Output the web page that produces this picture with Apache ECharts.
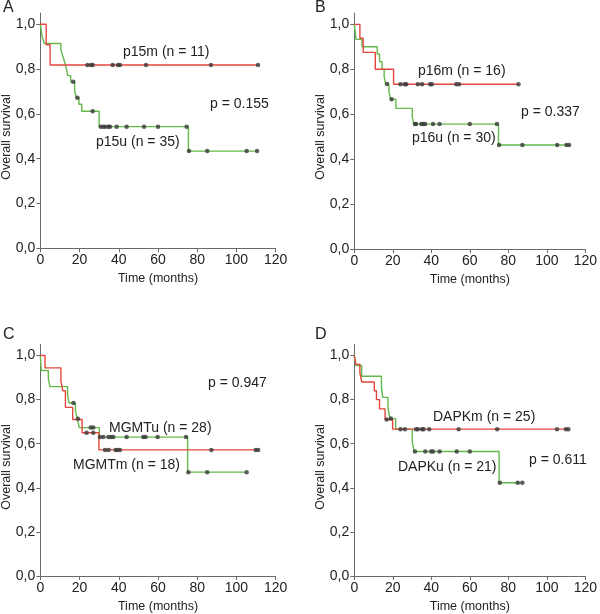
<!DOCTYPE html>
<html>
<head>
<meta charset="utf-8">
<script src="https://cdn.jsdelivr.net/npm/echarts@6/dist/echarts.min.js"></script>
<style>
html,body{margin:0;padding:0;background:#fff;}
#chart{width:600px;height:614px;}
</style>
</head>
<body>
<div id="chart"></div>
<script>
// ---- axis ticks ----
const xTicks = [0, 20, 40, 60, 80, 100, 120];
const yTicks = [0, 0.2, 0.4, 0.6, 0.8, 1.0];

// ---- Panel A ----
const p15m = [[0,1],[3,0.909],[5,0.818],[111,0.818]];
const p15mCens = [24,25.8,26.7,36.9,39.6,40.6,53.9,87,111];
const p15u = [[0,1],[1,0.943],[2,0.914],[10.5,0.886],[11.5,0.857],[12.5,0.829],[13.3,0.8],[14,0.771],[15.5,0.743],[17.5,0.705],[18.3,0.672],[19.7,0.643],[21.1,0.612],[30,0.543],[75.5,0.434],[110.5,0.434]];
const p15uCens = [16.8,18.9,26.7,30.8,32.1,33.3,34.8,35.5,38.9,44.0,52.9,60.0,74.6,75.8,85.1,105.2,110.5];

// ---- Panel B ----
const p16m = [[0,1],[2.9,0.938],[4.6,0.875],[10.9,0.80],[20.4,0.733],[85.3,0.733]];
const p16mCens = [24.0,26.2,27.0,33.0,35.2,39.4,40.3,53.0,54.4,85.3];
const p16u = [[0,1],[0.9,0.933],[4,0.90],[11.9,0.868],[13.1,0.834],[14.4,0.80],[15.5,0.767],[16.3,0.734],[18,0.70],[18.8,0.666],[21.6,0.626],[30.1,0.589],[30.9,0.556],[74.9,0.463],[111.6,0.463]];
const p16uCens = [17.0,19.4,31.5,32.1,34.8,35.8,36.8,40.9,44.3,60.0,74.1,75.2,87.3,105.4,110.2,111.6];

// ---- Panel C ----
const mgmtm = [[0,1],[2.4,0.944],[10.5,0.884],[11.5,0.84],[12.8,0.765],[16.5,0.71],[21.3,0.65],[29.9,0.572],[111.1,0.572]];
const mgmtmCens = [23.6,27.0,33.0,34.8,38.4,39.3,40.6,87.2,109.8,111.1];
const mgmtu = [[0,1],[0.5,0.932],[4.1,0.895],[4.9,0.859],[13.9,0.825],[14.6,0.785],[17.9,0.750],[18.9,0.713],[19.9,0.673],[30.1,0.630],[75.1,0.471],[105.2,0.471]];
const mgmtuCens = [16.9,19.2,25.7,27.0,30.4,32.1,34.7,36.0,37.2,44.0,52.5,53.7,59.8,74.3,75.5,85.1,105.2];

// ---- Panel D ----
const dapkm = [[0,1],[0.8,0.96],[2.9,0.92],[3.9,0.88],[10.4,0.84],[11.5,0.80],[13.1,0.758],[16,0.71],[19.9,0.666],[111.2,0.666]];
const dapkmCens = [16.8,24.0,26.3,32.1,33.0,35.2,36.0,38.9,54.2,74.2,105.3,109.9,111.2];
const dapku = [[0,1],[0.8,0.955],[3.8,0.906],[14.1,0.857],[14.8,0.81],[17.5,0.762],[18.5,0.714],[21.5,0.666],[30.1,0.609],[31.1,0.565],[75.2,0.423],[87.3,0.423]];
const dapkuCens = [19.0,31.5,36.9,39.9,40.9,44.3,53.2,60.0,75.6,84.9,87.3];

// ---- annotation texts ----
const panelLetters = ['A', 'B', 'C', 'D'];
const groupLabels = [
  ['p15m (n = 11)', 'p15u (n = 35)', 'p = 0.155'],
  ['p16m (n = 16)', 'p16u (n = 30)', 'p = 0.337'],
  ['MGMTm (n = 18)', 'MGMTu (n = 28)', 'p = 0.947'],
  ['DAPKm (n = 25)', 'DAPKu (n = 21)', 'p = 0.611']
];
const xTitle = 'Time (months)';
const yTitle = 'Overall survival';

const RED = '#e5463d';
const GREEN = '#63b94a';
const DOT = '#3a3a3a';
const FONT = 'Arial, "Liberation Sans", sans-serif';

function survAt(curve, t) {
  let s = curve[0][1];
  for (const p of curve) { if (p[0] <= t) s = p[1]; }
  return s;
}

const panels = [
  { m: p15m, mc: p15mCens, u: p15u, uc: p15uCens },
  { m: p16m, mc: p16mCens, u: p16u, uc: p16uCens },
  { m: mgmtm, mc: mgmtmCens, u: mgmtu, uc: mgmtuCens },
  { m: dapkm, mc: dapkmCens, u: dapku, uc: dapkuCens }
];

const grids = [
  { left: 40.3, top: 13.1, width: 235.4, height: 235.2 },
  { left: 354.3, top: 13.1, width: 235.7, height: 235.9 },
  { left: 40.3, top: 344.5, width: 235.4, height: 235.5 },
  { left: 354.3, top: 344.5, width: 235.7, height: 235.5 }
];

const axisLineStyle = { color: '#6a6a6a', width: 1 };
const labelStyle = { color: '#222', fontSize: 14, fontFamily: FONT };

const xAxes = [], yAxes = [], series = [];
panels.forEach((p, i) => {
  xAxes.push({
    type: 'value', gridIndex: i, min: 0, max: 120, interval: 20,
    axisLine: { show: true, lineStyle: axisLineStyle },
    axisTick: { show: true, length: 4, lineStyle: axisLineStyle },
    axisLabel: Object.assign({ margin: 5, showMaxLabel: true, showMinLabel: true }, labelStyle),
    splitLine: { show: false },
    name: xTitle, nameLocation: 'middle', nameGap: 24,
    nameTextStyle: { color: '#222', fontSize: 12.5, fontFamily: FONT }
  });
  yAxes.push({
    type: 'value', gridIndex: i, min: 0, max: 1.05,
    axisLine: { show: true, lineStyle: axisLineStyle },
    axisTick: { show: true, length: 4, lineStyle: axisLineStyle, customValues: yTicks },
    axisLabel: Object.assign({
      margin: 5, customValues: yTicks,
      formatter: v => v.toFixed(1).replace('.', ',')
    }, labelStyle),
    splitLine: { show: false }
  });
  series.push({
    type: 'line', xAxisIndex: i, yAxisIndex: i, data: p.u, step: 'end',
    symbol: 'none', lineStyle: { color: GREEN, width: 1.4 }, z: 2, silent: true
  });
  series.push({
    type: 'line', xAxisIndex: i, yAxisIndex: i, data: p.m, step: 'end',
    symbol: 'none', lineStyle: { color: RED, width: 1.4 }, z: 3, silent: true
  });
  series.push({
    type: 'scatter', xAxisIndex: i, yAxisIndex: i,
    data: p.uc.map(t => [t, survAt(p.u, t)]),
    symbol: 'circle', symbolSize: 4.5, itemStyle: { color: DOT }, z: 4, silent: true
  });
  series.push({
    type: 'scatter', xAxisIndex: i, yAxisIndex: i,
    data: p.mc.map(t => [t, survAt(p.m, t)]),
    symbol: 'circle', symbolSize: 4.5, itemStyle: { color: DOT }, z: 4, silent: true
  });
});

// text placements (pixel positions of annotations)
const txt = (text, x, y, size, align) => ({
  type: 'text', x: x, y: y, silent: true,
  style: { text: text, fill: '#222', font: size + 'px ' + FONT, textAlign: align || 'left', textVerticalAlign: 'middle' }
});
const annPos = [
  [[123, 52], [96, 142], [210, 104]],
  [[418, 71], [412, 138], [521, 112]],
  [[73, 465], [109, 428], [208, 383]],
  [[433, 417], [398, 467], [529, 460]]
];
const letterPos = [[3, 8], [315, 8], [3, 335], [315, 335]];
const yTitlePos = [[7, 137], [321, 137], [7, 467], [321, 467]];

const graphics = [];
panels.forEach((p, i) => {
  graphics.push(txt(panelLetters[i], letterPos[i][0], letterPos[i][1], 16));
  groupLabels[i].forEach((s, k) => graphics.push(txt(s, annPos[i][k][0], annPos[i][k][1], 14)));
  graphics.push({
    type: 'text', x: yTitlePos[i][0], y: yTitlePos[i][1], rotation: Math.PI / 2, silent: true,
    style: { text: yTitle, fill: '#222', font: '12.5px ' + FONT, textAlign: 'center', textVerticalAlign: 'middle' }
  });
});

const chart = echarts.init(document.getElementById('chart'), null, { renderer: 'canvas' });
chart.setOption({
  animation: false,
  backgroundColor: '#fff',
  grid: grids,
  xAxis: xAxes,
  yAxis: yAxes,
  series: series,
  graphic: graphics
});
</script>
</body>
</html>
